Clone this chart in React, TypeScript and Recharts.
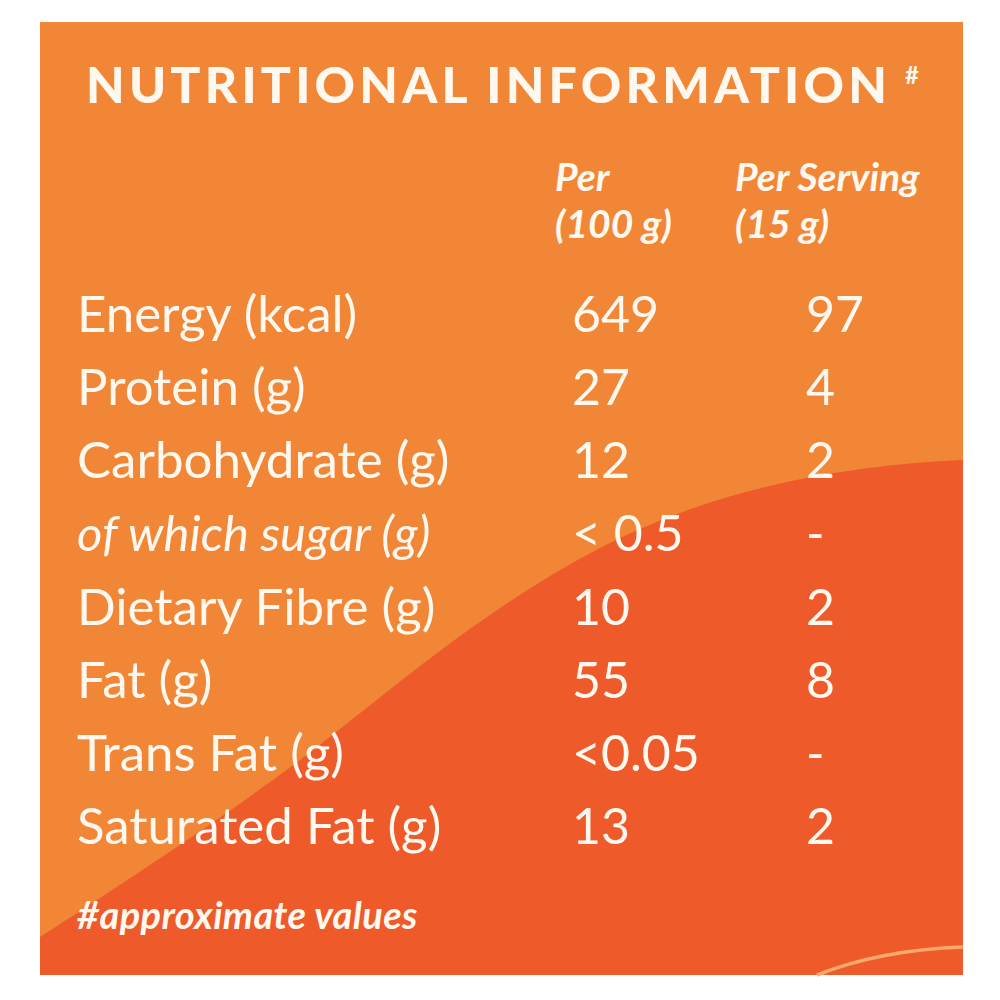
import { Customized, Scatter, ScatterChart, XAxis, YAxis } from "recharts";

// rows of the label
const nutrients = [
  "Energy (kcal)",
  "Protein (g)",
  "Carbohydrate (g)",
  "of which sugar (g)",
  "Dietary Fibre (g)",
  "Fat (g)",
  "Trans Fat (g)",
  "Saturated Fat (g)",
];
const per100g = ["649", "27", "12", "< 0.5", "10", "55", "<0.05", "13"];
const perServing = ["97", "4", "2", "-", "2", "8", "-", "2"];
const italicRows = ["of which sugar (g)"];

// column headers
const columns = ["Per (100 g)", "Per Serving (15 g)"];
const columnTop = ["Per", "Per Serving"];
const columnBottom = ["(100 g)", "(15 g)"];

const title = "NUTRITIONAL INFORMATION";
const footnote = "#approximate values";

const per100Points = nutrients.map((row, i) => ({ row, col: columns[0], text: per100g[i] }));
const perServingPoints = nutrients.map((row, i) => ({ row, col: columns[1], text: perServing[i] }));

const INK = "#fff8ef";
const FONT = "Lato, 'Open Sans', sans-serif";
const HEADER_DX = [-17, -71];

function ValueCell(props: any) {
  const { cx, cy, payload } = props;
  if (cx == null || cy == null) return null;
  return (
    <text x={cx} y={cy + 19} fill={INK} fontFamily={FONT} fontSize={50} textAnchor="start">
      {payload.text}
    </text>
  );
}

function RowTick(props: any) {
  const { y, payload } = props;
  const italic = italicRows.includes(payload.value);
  return (
    <text
      x={77}
      y={y + 19}
      fill={INK}
      fontFamily={FONT}
      fontSize={italic ? 49 : 51}
      fontStyle={italic ? "italic" : "normal"}
      textAnchor="start"
    >
      {payload.value}
    </text>
  );
}

// two-line header
function ColumnTick(props: any) {
  const { x, payload } = props;
  const i = payload.index ?? columns.indexOf(payload.value);
  const left = x + HEADER_DX[i];
  return (
    <text
      x={left}
      y={191}
      fill={INK}
      fontFamily={FONT}
      fontSize={39}
      fontWeight={700}
      fontStyle="italic"
    >
      <tspan x={left}>{columnTop[i]}</tspan>
      <tspan x={left} dy={47}>
        {columnBottom[i]}
      </tspan>
    </text>
  );
}

function Titles() {
  return (
    <g fill={INK} fontFamily={FONT}>
      <text x={86} y={103} fontSize={50} fontWeight={900} letterSpacing={4.2}>
        {title}
      </text>
      <text x={905} y={84} fontSize={24} fontWeight={700}>
        #
      </text>
      <text x={77} y={929} fontSize={38} fontWeight={700} fontStyle="italic" letterSpacing={0.4}>
        {footnote}
      </text>
    </g>
  );
}

function Backdrop() {
  return (
    <svg width={1000} height={1000} style={{ position: "absolute", left: 0, top: 0 }}>
      <rect x={0} y={0} width={1000} height={1000} fill="#ffffff" />
      <rect x={40} y={22} width={923} height={953} fill="#f28637" />
      <path
        d="M40,937 C120,885 220,820 300,760 S480,610 600,548 S850,465 963,460 L963,975 L40,975 Z"
        fill="#ee5a2a"
      />
      <path d="M817,975 Q880,950 963,947" fill="none" stroke="#f9a86e" strokeWidth={3.5} />
    </svg>
  );
}

export default function App() {
  return (
    <div style={{ position: "absolute", left: 0, top: 0, width: 1000, height: 1000 }}>
      <Backdrop />
      <div style={{ position: "absolute", left: 0, top: 0 }}>
        <ScatterChart width={1000} height={1000} margin={{ top: 126, right: 77, bottom: 138, left: 0 }}>
          <XAxis
            type="category"
            dataKey="col"
            orientation="top"
            height={150}
            allowDuplicatedCategory={false}
            axisLine={false}
            tickLine={false}
            interval={0}
            tick={<ColumnTick />}
          />
          <YAxis
            type="category"
            dataKey="row"
            width={455}
            reversed
            allowDuplicatedCategory={false}
            axisLine={false}
            tickLine={false}
            interval={0}
            tick={<RowTick />}
          />
          <Scatter data={per100Points} shape={<ValueCell />} isAnimationActive={false} />
          <Scatter data={perServingPoints} shape={<ValueCell />} isAnimationActive={false} />
          <Customized component={<Titles />} />
        </ScatterChart>
      </div>
    </div>
  );
}
